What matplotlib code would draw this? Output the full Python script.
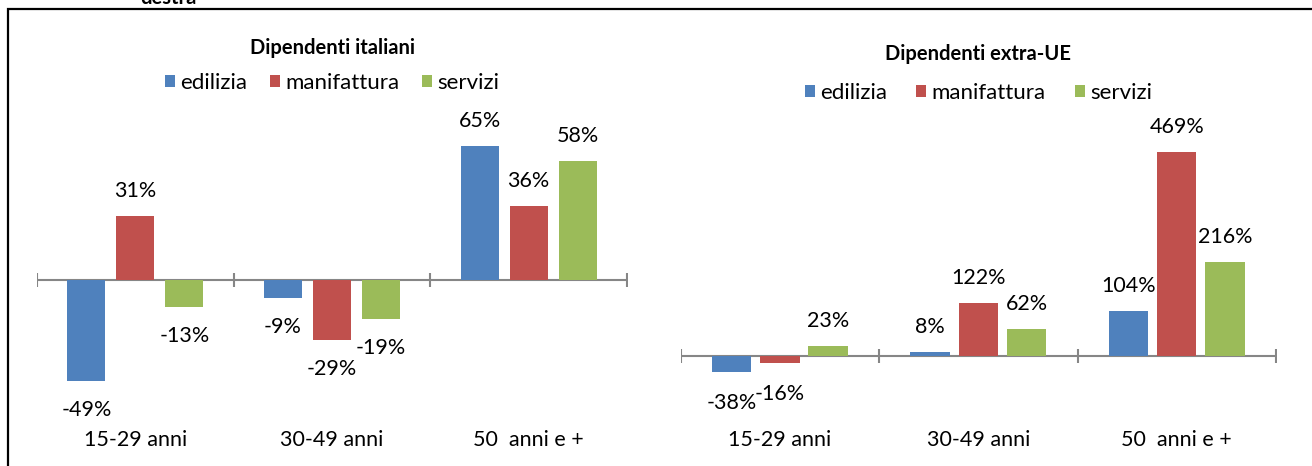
import matplotlib
matplotlib.use('Agg')
import matplotlib.pyplot as plt
from matplotlib.patches import Patch, Rectangle
import matplotlib.transforms as mtransforms

plt.rcParams['font.family'] = ['Lato', 'DejaVu Sans']

categories = ['15-29 anni', '30-49 anni', '50  anni e +']
series = ['edilizia', 'manifattura', 'servizi']
colors = ['#4F81BD', '#C0504D', '#9BBB59']

italiani_edilizia = [-49, -9, 65]
italiani_manifattura = [31, -29, 36]
italiani_servizi = [-13, -19, 58]

extraue_edilizia = [-38, 8, 104]
extraue_manifattura = [-16, 122, 469]
extraue_servizi = [23, 62, 216]

W, H = 1312, 466
fig = plt.figure(figsize=(W / 100, H / 100), dpi=100)


def px_axes(x0, x1, ytop, ybot):
    return fig.add_axes([x0 / W, (H - ybot) / H, (x1 - x0) / W, (ybot - ytop) / H])


def draw_panel(ax, data, ylim, title, title_y, leg_y, colspacing, width, step, neg_off):
    ax.set_xlim(-0.5, 2.5)
    ax.set_ylim(*ylim)
    for s in ax.spines.values():
        s.set_visible(False)
    ax.set_xticks([])
    ax.set_yticks([])
    ax.axhline(0, color='#868686', lw=1.5, zorder=1)
    bounds = [-0.5, 0.5, 1.5, 2.5]
    ax.plot(bounds, [0] * len(bounds), linestyle='none', marker='|',
            markersize=10, markeredgewidth=1.5, color='#868686', zorder=1)
    xs = list(range(len(categories)))
    for i, (vals, c) in enumerate(zip(data, colors)):
        pos = [x + (i - 1) * step for x in xs]
        ax.bar(pos, vals, width=width, color=c, zorder=2, label=series[i])
        for p, v in zip(pos, vals):
            off = 25 if v >= 0 else -neg_off
            ax.annotate(f'{v}%', (p, v), xytext=(0, off), textcoords='offset pixels',
                        ha='center', va='center', fontsize=15.5, color='black')
    tr = mtransforms.blended_transform_factory(ax.transData, ax.transAxes)
    for x, lab in zip(xs, categories):
        ax.text(x, -40 / 300, lab, transform=tr, ha='center', va='center', fontsize=15.5)
    ax.text(0.5, title_y, title, transform=ax.transAxes, ha='center', va='center',
            fontsize=14.5, fontweight='bold')
    handles = [Patch(facecolor=c, edgecolor='none') for c in colors]
    ax.legend(handles, series, loc='center', bbox_to_anchor=(0.5, leg_y), ncol=3,
              frameon=False, fontsize=16, handlelength=0.45, handleheight=0.45,
              handletextpad=0.25, columnspacing=colspacing, borderpad=0)


ax1 = px_axes(37, 627, 100, 400)
draw_panel(ax1, [italiani_edilizia, italiani_manifattura, italiani_servizi],
           (-58.3, 87.4), 'Dipendenti italiani', (400 - 48) / 300, (400 - 83) / 300,
           1.0, 0.193, 0.249, 29)

ax2 = px_axes(680.7, 1276, 100, 400)
draw_panel(ax2, [extraue_edilizia, extraue_manifattura, extraue_servizi],
           (-102, 589), 'Dipendenti extra-UE', (400 - 54) / 300, (400 - 93) / 300,
           1.3, 0.198, 0.243, 31)

# outer border (top and left visible)
fig.patches.append(Rectangle((8 / W, -0.1), 1.2, (H - 9) / H + 0.1, transform=fig.transFigure,
                             fill=False, edgecolor='black', lw=1.6))
fig.text(168 / W, 1 - 4 / H, 'destra', ha='center', va='baseline', fontsize=14.5,
         fontweight='bold')

fig.savefig('out.png', dpi=100)
